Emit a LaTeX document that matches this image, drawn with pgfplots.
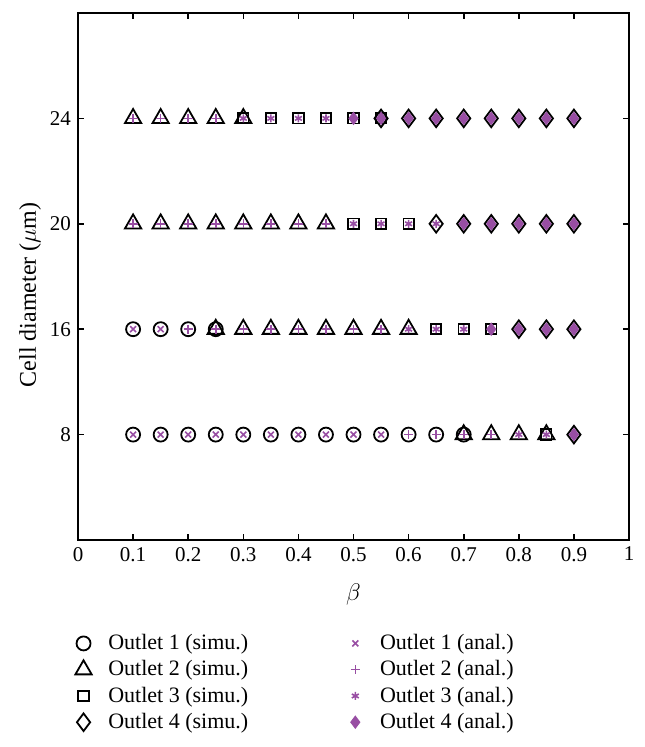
\documentclass[border=0pt]{standalone}
\usepackage{pgfplots}
\pgfplotsset{compat=1.18}
\usepackage{fontspec}
\setmainfont{Liberation Serif}
\definecolor{anal}{RGB}{152,78,163}
\begin{document}
\begin{tikzpicture}
\path[use as bounding box] (-39pt,-103.5pt) rectangle (283pt,270pt);
\begin{axis}[
  scale only axis, width=275.5pt, height=263.5pt,
  xmin=0, xmax=1, ymin=0, ymax=5,
  xtick={0,0.1,0.2,0.3,0.4,0.5,0.6,0.7,0.8,0.9,1},
  ytick={1,2,3,4}, yticklabels={8,16,20,24},
  tick align=inside, major tick length=3pt,
  axis line style={line width=0.8pt},
  every tick/.style={black, line width=0.8pt},
  /pgf/number format/assume math mode=true,
  tick label style={font=\fontsize{10.5}{12}\selectfont},
  label style={font=\fontsize{12}{14}\selectfont},
  xlabel={$\beta$},
  ylabel={Cell diameter ($\mu$m)},
  xlabel style={at={(axis description cs:0.5,-0.104)}, anchor=center},
  ylabel style={at={(axis description cs:-0.087,0.465)}, anchor=center},
  legend columns=2,
  legend image code/.code={\path (0cm,0cm) (0.6cm,0cm); \draw[#1] plot coordinates {(0.25cm,0cm)};},
  legend style={draw=none, fill=none, font=\fontsize{11}{13.5}\selectfont,
    at={(axis description cs:-0.029,-0.163)}, anchor=north west,
    /tikz/every even column/.append style={column sep=44pt},
    row sep=0pt},
  legend cell align=left,
]
% Outlet 1 (simu.)
\addplot[only marks, mark=o, mark size=3.5pt, line width=0.9pt, black] coordinates {
 (0.1,1)(0.15,1)(0.2,1)(0.25,1)(0.3,1)(0.35,1)(0.4,1)(0.45,1)(0.5,1)(0.55,1)(0.6,1)(0.65,1)(0.7,1)
 (0.1,2)(0.15,2)(0.2,2)(0.25,2)};
\addlegendentry{Outlet 1 (simu.)}
% Outlet 1 (anal.)
\addplot[only marks, mark=x, mark size=2.1pt, line width=0.8pt, anal] coordinates {
 (0.1,1)(0.15,1)(0.2,1)(0.25,1)(0.3,1)(0.35,1)(0.4,1)(0.45,1)(0.5,1)(0.55,1)
 (0.1,2)(0.15,2)};
\addlegendentry{Outlet 1 (anal.)}
% Outlet 2 (simu.)
\addplot[only marks, mark=triangle, mark size=4.7pt, line width=0.9pt, black] coordinates {
 (0.7,1)(0.75,1)(0.8,1)(0.85,1)
 (0.25,2)(0.3,2)(0.35,2)(0.4,2)(0.45,2)(0.5,2)(0.55,2)(0.6,2)
 (0.1,3)(0.15,3)(0.2,3)(0.25,3)(0.3,3)(0.35,3)(0.4,3)(0.45,3)
 (0.1,4)(0.15,4)(0.2,4)(0.25,4)(0.3,4)};
\addlegendentry{Outlet 2 (simu.)}
% Outlet 2 (anal.)
\addplot[only marks, mark=+, mark size=2.2pt, line width=0.8pt, anal] coordinates {
 (0.6,1)(0.65,1)(0.7,1)(0.75,1)
 (0.2,2)(0.25,2)(0.3,2)(0.35,2)(0.4,2)(0.45,2)(0.5,2)(0.55,2)
 (0.1,3)(0.15,3)(0.2,3)(0.25,3)(0.3,3)(0.35,3)(0.4,3)(0.45,3)
 (0.1,4)(0.15,4)(0.2,4)(0.25,4)};
\addlegendentry{Outlet 2 (anal.)}
% Outlet 3 (simu.)
\addplot[only marks, mark=square, mark size=2.6pt, line width=0.9pt, black] coordinates {
 (0.85,1)
 (0.65,2)(0.7,2)(0.75,2)
 (0.5,3)(0.55,3)(0.6,3)
 (0.3,4)(0.35,4)(0.4,4)(0.45,4)(0.5,4)(0.55,4)};
\addlegendentry{Outlet 3 (simu.)}
% Outlet 3 (anal.)
\addplot[only marks, mark=asterisk, mark size=2pt, line width=0.8pt, anal] coordinates {
 (0.8,1)(0.85,1)
 (0.6,2)(0.65,2)(0.7,2)
 (0.5,3)(0.55,3)(0.6,3)(0.65,3)
 (0.3,4)(0.35,4)(0.4,4)(0.45,4)};
\addlegendentry{Outlet 3 (anal.)}
% Outlet 4 (simu.)
\addplot[only marks, mark=diamond, mark size=4.4pt, line width=0.9pt, black] coordinates {
 (0.9,1)
 (0.8,2)(0.85,2)(0.9,2)
 (0.65,3)(0.7,3)(0.75,3)(0.8,3)(0.85,3)(0.9,3)
 (0.55,4)(0.6,4)(0.65,4)(0.7,4)(0.75,4)(0.8,4)(0.85,4)(0.9,4)};
\addlegendentry{Outlet 4 (simu.)}
% Outlet 4 (anal.)
\addplot[only marks, mark=diamond*, mark size=3pt, line width=0.5pt, anal, mark options={fill=anal}] coordinates {
 (0.9,1)
 (0.75,2)(0.8,2)(0.85,2)(0.9,2)
 (0.7,3)(0.75,3)(0.8,3)(0.85,3)(0.9,3)
 (0.5,4)(0.55,4)(0.6,4)(0.65,4)(0.7,4)(0.75,4)(0.8,4)(0.85,4)(0.9,4)};
\addlegendentry{Outlet 4 (anal.)}
\end{axis}
\end{tikzpicture}
\end{document}
